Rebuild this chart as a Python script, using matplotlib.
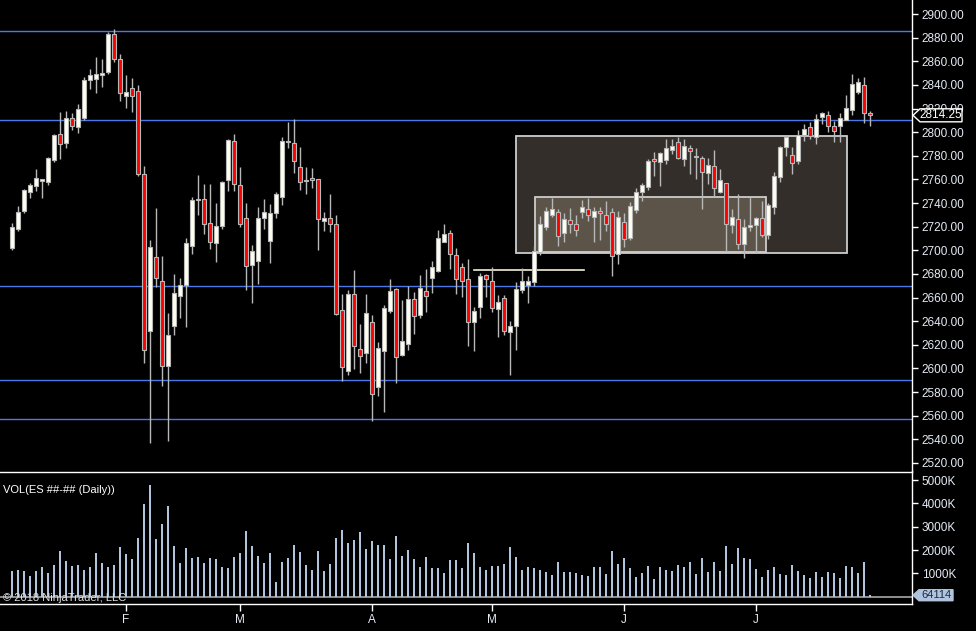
import matplotlib
matplotlib.use("Agg")
import matplotlib.pyplot as plt
import numpy as np
from matplotlib.patches import Rectangle, Polygon
from matplotlib.transforms import blended_transform_factory

plt.rcParams['font.family'] = ['Liberation Sans', 'DejaVu Sans']

# daily ES bars (open, high, low, close)
opens = [2702, 2718.3, 2733.5, 2749.6, 2754.7, 2758.7, 2758.1, 2776.7, 2798.2, 2791.1,
         2811.7, 2804.6, 2812.3, 2843.9, 2845.3, 2848.1, 2850.6, 2882.8, 2861.6, 2830.9,
         2837.1, 2834.8, 2764.9, 2632, 2694.1, 2673.8, 2602.4, 2636.2, 2661.6, 2670.7,
         2703.9, 2742.5, 2743.4, 2722.8, 2706.5, 2720.8, 2759.8, 2792.2, 2755, 2727.1,
         2687.3, 2691.2, 2727.1, 2708.2, 2731.9, 2745.4, 2792, 2790.5, 2770.2, 2758.7,
         2760.9, 2760.1, 2725, 2727, 2722, 2649.2, 2598.1, 2663, 2616.2, 2613.4,
         2639.1, 2584.6, 2615.1, 2648.9, 2667, 2611.1, 2621, 2658.5, 2645.5, 2665.6,
         2676.9, 2682.8, 2707.3, 2714.9, 2695.8, 2686.2, 2675.4, 2639.1, 2651.7, 2679.1,
         2673.8, 2650, 2659.4, 2630.6, 2635.7, 2666.2, 2670.9, 2673.5, 2698.9, 2719.5,
         2730.2, 2732.2, 2714.4, 2725.7, 2722, 2732.2, 2734.7, 2727.9, 2733.3, 2730.2,
         2732.2, 2696.6, 2723.7, 2710.7, 2734.4, 2749.1, 2753.9, 2777, 2774.5, 2776.2,
         2784.6, 2791.4, 2777, 2786.3, 2779.3, 2777.9, 2765.2, 2771.1, 2749.6, 2756.7,
         2721.1, 2726.2, 2705.1, 2719.5, 2721.1, 2727.1, 2712.7, 2736.4, 2761.8, 2787.2,
         2780.4, 2775.9, 2797.9, 2804.1, 2795.6, 2812.5, 2814.2, 2805.2, 2804.9, 2810,
         2818.5, 2834.3, 2839.9, 2816]
highs = [2723, 2737.5, 2752, 2756.7, 2768.8, 2760.4, 2779.3, 2798.4, 2817.1, 2817.9,
         2815.9, 2823.8, 2846.4, 2853.4, 2863.6, 2861.9, 2884.5, 2887.3, 2866.1, 2848.4,
         2845.6, 2839.9, 2771.4, 2708.7, 2736.1, 2695.2, 2646.7, 2680, 2676.6, 2710.4,
         2744.8, 2763.7, 2756.1, 2756.1, 2740, 2758.7, 2793.9, 2798.4, 2770.5, 2740,
         2704.5, 2736.7, 2743.4, 2739.2, 2749.4, 2795.9, 2808.6, 2811.1, 2787.4, 2770.5,
         2769.4, 2760.5, 2732.4, 2747.7, 2730, 2663, 2666.4, 2683.3, 2637.6, 2663,
         2645.3, 2622.7, 2653.7, 2675.7, 2667.8, 2658, 2669.8, 2664.7, 2679.1, 2684.2,
         2691, 2717.2, 2722.3, 2717.2, 2702, 2689, 2692.7, 2651.7, 2681.1, 2680,
         2685.9, 2662.2, 2662.2, 2640.2, 2672.9, 2685, 2678.5, 2703.4, 2728.8, 2736.7,
         2744.6, 2735, 2731.3, 2735.5, 2730.2, 2742.3, 2744.6, 2736.7, 2736.4, 2741.7,
         2735.5, 2733.3, 2731.6, 2740.9, 2752.5, 2756.7, 2777.6, 2782.9, 2783.2, 2794.2,
         2794.2, 2796.2, 2794.2, 2788.9, 2786.3, 2780.1, 2777.9, 2784.9, 2768.8, 2756.7,
         2735, 2747.7, 2726.2, 2744.8, 2727.9, 2741.7, 2739.8, 2766, 2788.6, 2797.6,
         2787.2, 2801.8, 2806.6, 2808.9, 2815.1, 2817.3, 2817.9, 2809.4, 2815.9, 2831.7,
         2848.9, 2845.6, 2847, 2817.6]
lows = [2700, 2716.6, 2732, 2744.5, 2750.2, 2744.5, 2755.6, 2775, 2777.6, 2786.9,
        2801.8, 2799.6, 2810.3, 2836.5, 2833.4, 2838.5, 2849.2, 2859.7, 2826.6, 2820.7,
        2817.3, 2763.2, 2604.3, 2537.2, 2669.3, 2585.5, 2538.9, 2628.3, 2642.7, 2635.1,
        2696.9, 2729.9, 2713.8, 2701.4, 2690.1, 2718, 2750.5, 2750.5, 2719.7, 2666.4,
        2655.7, 2671.8, 2718, 2689.3, 2727.6, 2738.6, 2786.6, 2765.7, 2751, 2747.9,
        2753, 2700.3, 2716, 2715.8, 2645.3, 2589.7, 2594.5, 2599.6, 2596.5, 2604.4,
        2555.8, 2576.7, 2563.4, 2647.2, 2588, 2610.8, 2615.6, 2629.2, 2643, 2648.1,
        2663.9, 2681.4, 2707.3, 2684.2, 2663, 2660.8, 2619.3, 2615.1, 2643, 2660.8,
        2648.1, 2626.9, 2628.1, 2594.5, 2615.6, 2664.2, 2655.7, 2669.8, 2696.3, 2717.2,
        2727.9, 2703.9, 2706.8, 2714.4, 2711.8, 2727.6, 2724.8, 2707.3, 2709, 2716.6,
        2678.5, 2688.4, 2703.1, 2708.7, 2731.9, 2742, 2751, 2762.9, 2754.7, 2772.8,
        2781.2, 2777.3, 2771.6, 2764.9, 2760.6, 2735.3, 2756.4, 2746.3, 2748.2, 2699.7,
        2714.4, 2700.8, 2693.2, 2716.6, 2698, 2711.6, 2709.6, 2731, 2757.8, 2780.1,
        2764.9, 2773, 2792.8, 2794.2, 2789.7, 2806.6, 2800.1, 2792, 2792, 2810,
        2814.5, 2832, 2808, 2805.5]
closes = [2719.5, 2732.2, 2750.8, 2755, 2760.9, 2760, 2778.1, 2797.3, 2790.3, 2811.7,
          2804.9, 2819.3, 2843.9, 2848.1, 2848.9, 2850, 2882.8, 2861.6, 2832.9, 2833.7,
          2830.9, 2764.9, 2615.9, 2702.5, 2676.9, 2602.4, 2628.3, 2663.6, 2670.4, 2705.9,
          2742.6, 2743, 2722.6, 2707.3, 2720.3, 2757.8, 2793.1, 2755.8, 2722.6, 2686.5,
          2699.1, 2727.1, 2732.1, 2731.3, 2747.4, 2792.2, 2792.4, 2775.9, 2757.5, 2759,
          2759.2, 2726.2, 2727.1, 2722.3, 2646.4, 2601.5, 2663, 2619.3, 2610.8, 2646.7,
          2578.7, 2617, 2650.9, 2665.6, 2609.4, 2623, 2658.5, 2644.7, 2667.8, 2661,
          2685.6, 2710.1, 2713.5, 2696.6, 2675.4, 2674.3, 2639.1, 2648.4, 2678.3, 2675.4,
          2650.9, 2656, 2631.4, 2635.7, 2667, 2673.8, 2673.8, 2699.1, 2722, 2733.3,
          2735, 2712.4, 2726.2, 2722, 2716.9, 2736.4, 2729.6, 2733.6, 2731.3, 2722,
          2695.5, 2727.9, 2709.3, 2737.2, 2749.1, 2755, 2775.3, 2775.3, 2782.1, 2786.3,
          2788.3, 2778.4, 2788.3, 2783.8, 2779.7, 2766, 2771.9, 2752.5, 2759.2, 2722,
          2727.9, 2705.1, 2719.5, 2721.1, 2727.1, 2712.7, 2738.1, 2762.6, 2787.2, 2796.2,
          2773.6, 2797.9, 2802.4, 2796.8, 2810.9, 2815.9, 2804.9, 2800.7, 2811.7, 2820.2,
          2840.5, 2842.2, 2816.5, 2814.25]

# daily volume in thousands of contracts
volume_k = [1115, 1158, 1115, 901, 1115, 1287, 1030, 1373, 1973, 1544,
            1330, 1373, 1158, 1287, 1888, 1459, 1287, 1373, 2145, 1845,
            1630, 2531, 3990, 4805, 2488, 3132, 3904, 2188, 1459, 2102,
            1673, 1716, 1459, 1673, 1630, 1287, 1244, 1716, 1888, 2831,
            2188, 1759, 1459, 1888, 644, 1502, 1673, 2231, 1931, 1373,
            1158, 1973, 1115, 1416, 2531, 2874, 2317, 2445, 2789, 2059,
            2402, 2231, 2231, 1630, 2617, 1759, 2016, 1630, 1287, 1716,
            1244, 1244, 1030, 1587, 1587, 1244, 2317, 1888, 1287, 1158,
            1330, 1330, 1416, 2145, 1716, 1158, 1287, 1244, 1158, 1073,
            944, 1502, 1073, 1073, 1030, 944, 901, 1287, 1287, 987,
            1973, 1416, 1673, 1244, 858, 1030, 1330, 772, 1287, 1158,
            1115, 1373, 1287, 1502, 987, 1673, 1073, 1502, 1115, 2188,
            1416, 2102, 1673, 1630, 1201, 858, 1158, 1287, 987, 944,
            1373, 1115, 944, 815, 1073, 858, 1073, 1030, 815, 1330,
            1287, 1030, 1502, 64.114]

# month starts (bar index) and labels
month_idx = [19, 38, 60, 80, 102, 124]
month_lbl = ['F', 'M', 'A', 'M', 'J', 'J']

# drawn support / resistance lines and zones
hlines = [2886, 2810.5, 2670, 2590, 2557]
outer_zone = (84.05, 139.2, 2697.7, 2796.8)
inner_zone = (87.2, 125.7, 2698.4, 2745.1)
seg_level = (77.0, 95.3, 2683)

last_price = 2814.25
last_vol = 64114

BG = 'black'
FG = '#E4EAF4'
W, H = 976, 631
fig = plt.figure(figsize=(W / 100, H / 100), dpi=100, facecolor=BG)

ax = fig.add_axes([0, 1 - 471.5 / H, 912 / W, 471.5 / H], facecolor=BG)
axv = fig.add_axes([0, 1 - 604.3 / H, 912 / W, (604.3 - 471.5) / H], sharex=ax)
axv.set_facecolor('none')

n = len(opens)
x = np.arange(n)
o = np.array(opens); c = np.array(closes)
hi = np.array(highs); lo = np.array(lows)

# zones
for (x0, x1, y0, y1), fc in [(outer_zone, '#332E29'), (inner_zone, '#5C5449')]:
    ax.add_patch(Rectangle((x0, y0), x1 - x0, y1 - y0, facecolor=fc,
                           edgecolor='#CCCCCC', linewidth=1.3, zorder=1))

for lvl in hlines:
    ax.axhline(lvl, color='#4A78E8', linewidth=1, zorder=1.5)
ax.plot([seg_level[0], seg_level[1]], [seg_level[2], seg_level[2]],
        color='#F2F0D8', linewidth=1.2, zorder=1.5)

# candles
up = c >= o
ax.vlines(x, lo, hi, color='#B8B8B8', linewidth=1, zorder=2)
body = np.maximum(np.abs(c - o), 0.9)
bottom = np.minimum(o, c)
ax.bar(x, body, bottom=bottom, width=0.75,
       color=np.where(up, '#FFFFF0', '#FF0000'),
       edgecolor='#B8B8B8', linewidth=0.8, zorder=3)

ax.set_xlim(-2, 150)
ax.set_ylim(2512.8, 2911.85)

# volume
axv.bar(x, volume_k, width=0.33, color='#B0C4DE', zorder=2)
axv.axhline(0, color='#A8A8A8', linewidth=1.2, zorder=1)
axv.set_ylim(-326, 5373)

for a in (ax, axv):
    for s in ('top', 'left'):
        a.spines[s].set_visible(False)
    for s in ('right', 'bottom'):
        a.spines[s].set_color('white')
        a.spines[s].set_linewidth(1)
    a.yaxis.tick_right()
    a.tick_params(axis='y', colors='white', labelcolor=FG, length=4, width=1,
                  pad=3, labelsize=8.5)

ax.set_yticks(np.arange(2520, 2901, 20))
ax.set_yticklabels([f'{v:.2f}' for v in np.arange(2520, 2901, 20)])
ax.tick_params(axis='x', bottom=False, labelbottom=False)

axv.set_yticks([1000, 2000, 3000, 4000, 5000])
axv.set_yticklabels([f'{v}K' for v in [1000, 2000, 3000, 4000, 5000]])
axv.set_xticks(month_idx)
axv.set_xticklabels(month_lbl)
axv.tick_params(axis='x', colors='white', labelcolor=FG, length=5, width=1,
                pad=2, labelsize=8.5)

# price tag
tr = blended_transform_factory(ax.transAxes, ax.transData)
px = 1 / 912
ph = 6.5 / 1.1816
ax.add_patch(Polygon([(1 + 1 * px, last_price), (1 + 8 * px, last_price + ph),
                      (1 + 50 * px, last_price + ph), (1 + 50 * px, last_price - ph),
                      (1 + 8 * px, last_price - ph)], closed=True, transform=tr,
                     facecolor='black', edgecolor='white', linewidth=1,
                     clip_on=False, zorder=6))
ax.text(1 + 29 * px, last_price, f'{last_price:.2f}', transform=tr, color='white',
        fontsize=8.5, ha='center', va='center', zorder=7, clip_on=False)

# volume tag
trv = blended_transform_factory(axv.transAxes, axv.transData)
vk = last_vol / 1000
vh = 5.5 / 23.3 * 1000
axv.add_patch(Polygon([(1 + 1 * px, vk), (1 + 7 * px, vk + vh), (1 + 41 * px, vk + vh),
                       (1 + 41 * px, vk - vh), (1 + 7 * px, vk - vh)], closed=True,
                      transform=trv, facecolor='#B0C4DE', edgecolor='#B0C4DE',
                      clip_on=False, zorder=6))
axv.text(1 + 24 * px, vk, f'{last_vol}', transform=trv, color='#1A2A44',
         fontsize=8, ha='center', va='center', zorder=7, clip_on=False)

axv.text(3 / 912, 0.857, 'VOL(ES ##-## (Daily))', transform=axv.transAxes,
         color='white', fontsize=8, ha='left', va='center')
axv.text(3 / 912, 0.05, '\u00a9 2018 NinjaTrader, LLC', transform=axv.transAxes,
         color='#E0E0E0', fontsize=8, ha='left', va='center', zorder=5)

fig.savefig('out.png', dpi=100, facecolor=BG)
